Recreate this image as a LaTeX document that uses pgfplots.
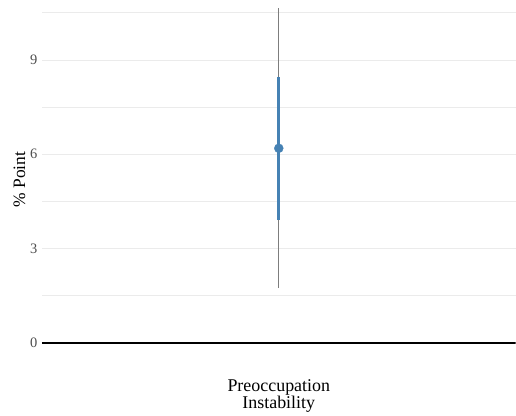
\documentclass[border=0pt]{standalone}
\usepackage{pgfplots}
\pgfplotsset{compat=1.18}
\usepackage{fontspec}
\setmainfont{Liberation Serif}
\definecolor{steel}{RGB}{70,130,180}
\definecolor{gridc}{RGB}{235,235,235}
\definecolor{tickc}{RGB}{77,77,77}
\definecolor{cithin}{RGB}{125,125,125}
\begin{document}
\begin{tikzpicture}
\begin{axis}[
  scale only axis, width=474bp, height=359.7bp,
  xmin=0.4, xmax=1.6, ymin=-0.53, ymax=10.91,
  axis line style={draw=none},
  major tick style={draw=none}, minor tick style={draw=none},
  ytick={0,3,6,9}, minor ytick={1.5,4.5,7.5,10.5},
  ymajorgrids, yminorgrids,
  major grid style={gridc, line width=0.8bp},
  minor grid style={gridc, line width=0.8bp},
  xtick={1}, xticklabels={Preoccupation\\Instability},
  xticklabel style={align=center, font=\fontsize{18}{16}\selectfont, text=black, yshift=-16.5bp},
  yticklabel style={font=\fontsize{14.5}{16}\selectfont, text=tickc, xshift=-1bp},
  /pgf/number format/assume math mode=true,
  ylabel={\% Point},
  ylabel style={font=\fontsize{17.5}{19}\selectfont, text=black, yshift=-2bp},
  clip=true,
]
\addplot[cithin, line width=0.9bp] coordinates {(1,1.74) (1,10.65)};
\addplot[steel, line width=3bp] coordinates {(1,3.91) (1,8.46)};
\addplot[black, line width=2.2bp] coordinates {(0.4,0) (1.6,0)};
\addplot[only marks, mark=*, mark size=4.5bp, steel, mark options={draw=steel, fill=steel}] coordinates {(1,6.19)};
\end{axis}
\path ([xshift=-42bp,yshift=-54.3bp]current axis.south west) rectangle (current axis.north east);
\end{tikzpicture}
\end{document}
